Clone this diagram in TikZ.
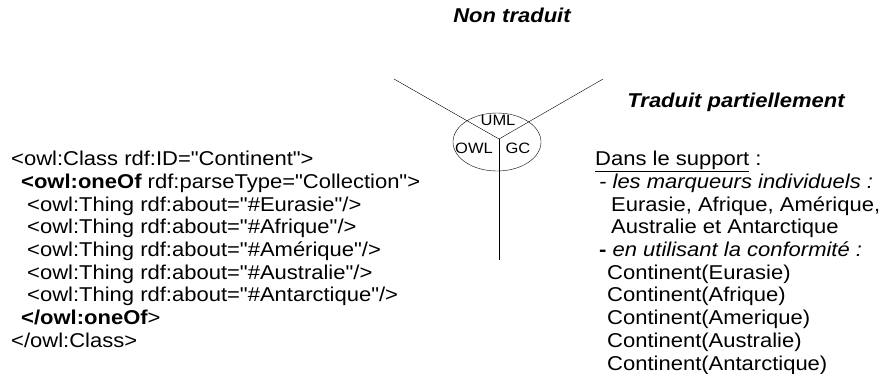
\documentclass[tikz,border=0pt]{standalone}
\usepackage{fontspec}
\setmainfont{Liberation Sans}[Ligatures=TeXOff,FakeStretch=1.1]
\usetikzlibrary{shapes.geometric}
\begin{document}
\begin{tikzpicture}[x=1pt,y=-1pt,
    txt/.style={inner sep=0pt,anchor=north west,align=left,font=\fontsize{20}{22.7}\selectfont},
    ttl/.style={inner sep=0pt,font=\fontsize{20}{24}\selectfont\bfseries\itshape},
    lbl/.style={inner sep=0pt,font=\fontsize{15}{18}\selectfont}]
  \useasboundingbox (0,0) rectangle (885,373);
  % titles
  \node[ttl] (nontrad) at (512,15) {Non traduit};
  \node[ttl] (partiel) at (736,102) {Traduit partiellement};
  % the three branches
  \node[draw,ellipse,minimum width=88pt,minimum height=58pt,inner sep=0pt] (lang) at (497,142) {};
  \coordinate (hub) at (499,139);
  \coordinate (endl) at (394,79);
  \coordinate (endr) at (603,79);
  \coordinate (endb) at (499,260);
  \foreach \e in {endl,endr,endb}
    \draw (hub) -- (\e);
  \node[lbl] (uml) at (498,120) {UML};
  \node[lbl] (owl) at (474,148) {OWL};
  \node[lbl] (gc) at (518,148) {GC};
  % OWL code
  \node[txt] (owlcode) at (11,151) {%
    <owl:Class rdf:ID="Continent">\\
    \hspace*{10pt}\textbf{<owl:oneOf} rdf:parseType="Collection">\\
    \hspace*{16pt}<owl:Thing rdf:about="\#Eurasie"/>\\
    \hspace*{16pt}<owl:Thing rdf:about="\#Afrique"/>\\
    \hspace*{16pt}<owl:Thing rdf:about="\#Amérique"/>\\
    \hspace*{16pt}<owl:Thing rdf:about="\#Australie"/>\\
    \hspace*{16pt}<owl:Thing rdf:about="\#Antarctique"/>\\
    \hspace*{10pt}\textbf{</owl:oneOf}>\\
    </owl:Class>};
  % translation
  \node[txt] (support) at (595,151) {%
    \underline{Dans le support} :\\
    \hspace*{4pt}\textit{- les marqueurs individuels :}\\
    \hspace*{16pt}Eurasie, Afrique, Amérique,\\
    \hspace*{16pt}Australie et Antarctique\\
    \hspace*{4pt}\textbf{-} \textit{en utilisant la conformité :}\\
    \hspace*{12pt}Continent(Eurasie)\\
    \hspace*{12pt}Continent(Afrique)\\
    \hspace*{12pt}Continent(Amerique)\\
    \hspace*{12pt}Continent(Australie)\\
    \hspace*{12pt}Continent(Antarctique)};
\end{tikzpicture}
\end{document}
